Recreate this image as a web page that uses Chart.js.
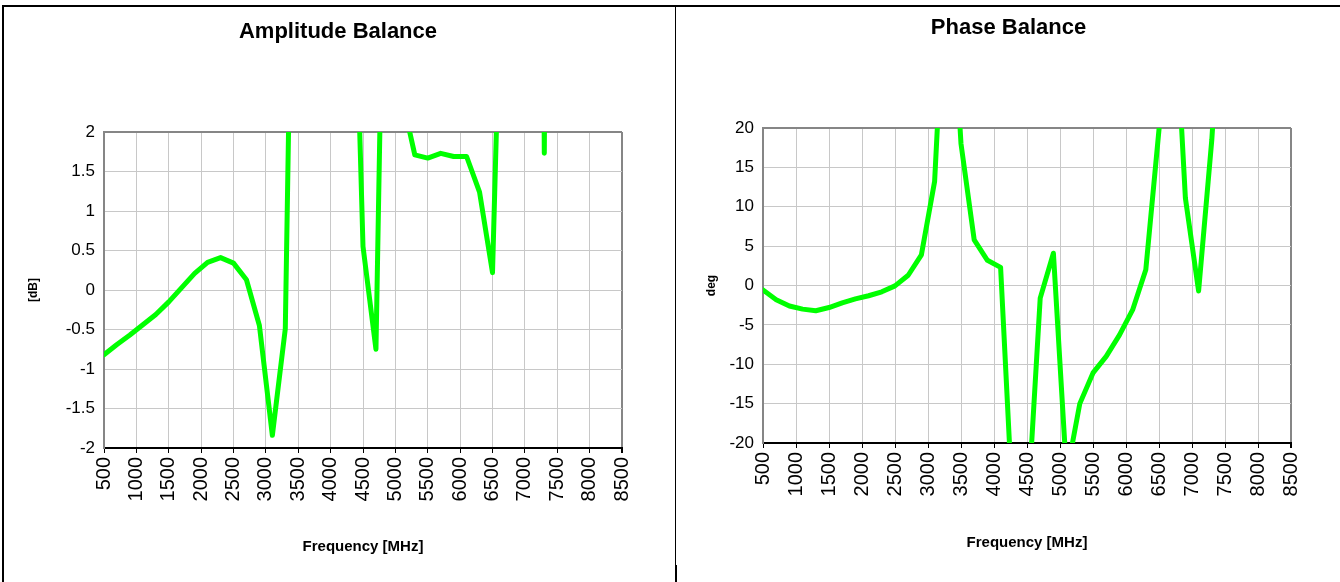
<!DOCTYPE html>
<html>
<head>
<meta charset="utf-8">
<script src="https://cdn.jsdelivr.net/npm/chart.js@4.4.1/dist/chart.umd.min.js"></script>
<style>
html,body{margin:0;padding:0;background:#fff;}
body{width:1340px;height:582px;position:relative;overflow:hidden;}
canvas{position:absolute;top:0;}
.ln{position:absolute;background:#000;}
</style>
</head>
<body>
<canvas id="c1" width="676" height="582" style="left:0"></canvas>
<canvas id="c2" width="663" height="582" style="left:677px"></canvas>
<div class="ln" style="left:2px;top:5px;width:1338px;height:2px"></div>
<div class="ln" style="left:2px;top:5px;width:2px;height:577px"></div>
<div class="ln" style="left:675px;top:5px;width:1px;height:577px"></div>
<div class="ln" style="left:675px;top:565px;width:2px;height:17px"></div>
<script>
// ---- data ----
const xTicks = [500,1000,1500,2000,2500,3000,3500,4000,4500,5000,5500,6000,6500,7000,7500,8000,8500];
const freqMHz = [500,700,900,1100,1300,1500,1700,1900,2100,2300,2500,2700,2900,3100,3300,3500,3700,3900,4100,4300,4500,4700,4900,5100,5300,5500,5700,5900,6100,6300,6500,6700,6900,7100,7300,7500];
const ampBalance = [-0.82,-0.69,-0.57,-0.44,-0.31,-0.15,0.03,0.21,0.35,0.41,0.34,0.13,-0.45,-1.84,-0.49,9.5,12,14,12,6.3,0.55,-0.75,8.4,2.45,1.71,1.67,1.73,1.69,1.69,1.24,0.22,6.2,9,30,1.73,30];
const phaseBalance = [-0.57,-1.8,-2.6,-3.0,-3.2,-2.8,-2.2,-1.7,-1.3,-0.8,-0.05,1.3,3.9,13.2,46,18,5.8,3.2,2.3,-31,-30,-1.6,4.1,-24,-15,-11.1,-9.0,-6.3,-3.1,2.0,19.8,42,11.1,-0.7,18.5,45];
const ampTicks = [-2,-1.5,-1,-0.5,0,0.5,1,1.5,2];
const phaseTicks = [-20,-15,-10,-5,0,5,10,15,20];

const FF = "'Liberation Sans', Arial, Helvetica, sans-serif";
const GRID = '#c8c8c8';
const FRAME = '#868686';
Chart.defaults.color = '#000';

function makeChart(id, title, titleTop, yTitle, yTicks, values, g) {
  const yMin = yTicks[0], yMax = yTicks[yTicks.length - 1];
  const xMax = xTicks[xTicks.length - 1];
  return new Chart(document.getElementById(id), {
    type: 'line',
    data: {
      datasets: [{
        data: freqMHz.map((f, i) => ({x: f, y: values[i]})),
        yAxisID: 'y',
        borderColor: '#00ff00',
        borderWidth: 5,
        pointRadius: 0,
        fill: false,
        tension: 0,
        clip: 0,
        borderJoinStyle: 'round',
        borderCapStyle: 'round'
      }]
    },
    options: {
      responsive: false,
      animation: false,
      layout: {padding: 0},
      plugins: {
        legend: {display: false},
        tooltip: {enabled: false},
        title: {
          display: true, text: title, color: '#000',
          font: {family: FF, size: 22, weight: 'bold', lineHeight: 1.2},
          padding: {top: titleTop, bottom: g.top - titleTop - 26.4}
        }
      },
      scales: {
        x: {
          type: 'linear', min: xTicks[0], max: xMax,
          afterBuildTicks: s => { s.ticks = xTicks.map(v => ({value: v})); },
          afterFit: s => { s.height = g.H - g.bottom; },
          grid: {
            color: c => (c.tick && c.tick.value === xMax) ? FRAME : GRID,
            lineWidth: c => (c.tick && c.tick.value === xMax) ? 2 : 1,
            tickColor: '#000', tickLength: 5, drawTicks: true
          },
          border: {color: '#000', width: 2},
          ticks: {
            autoSkip: false, maxRotation: 90, minRotation: 90, padding: 4,
            color: '#000', font: {family: FF, size: 20},
            callback: v => String(v)
          },
          title: {
            display: true, text: 'Frequency [MHz]', color: '#000',
            font: {family: FF, size: 15, weight: 'bold', lineHeight: 1.2},
            padding: {top: 0, bottom: g.xTitleBottom}
          }
        },
        y: {
          type: 'linear', min: yMin, max: yMax,
          afterBuildTicks: s => { s.ticks = yTicks.map(v => ({value: v})); },
          afterFit: s => { s.width = g.left; },
          grid: {
            color: c => (c.tick && c.tick.value === yMax) ? FRAME : GRID,
            lineWidth: c => (c.tick && c.tick.value === yMax) ? 2 : 1,
            drawTicks: false
          },
          border: {color: FRAME, width: 2},
          ticks: {
            padding: 9, color: '#000', font: {family: FF, size: 17},
            callback: v => String(v)
          },
          title: {
            display: true, text: yTitle, color: '#000',
            font: {family: FF, size: 12, weight: 'bold', lineHeight: 1.2},
            padding: {top: g.yTitleLeft, bottom: 0}
          }
        },
        spacer: {
          type: 'linear', position: 'right', display: true,
          afterFit: s => { s.width = g.W - g.right; },
          grid: {display: false, drawTicks: false},
          border: {display: false},
          ticks: {display: false},
          title: {display: false}
        }
      }
    }
  });
}

makeChart('c1', 'Amplitude Balance', 19, '[dB]', ampTicks, ampBalance,
  {W: 676, H: 582, left: 104, right: 622, top: 132, bottom: 448, xTitleBottom: 26, yTitleLeft: 26});
makeChart('c2', 'Phase Balance', 15, 'deg', phaseTicks, phaseBalance,
  {W: 663, H: 582, left: 86, right: 614, top: 128, bottom: 443, xTitleBottom: 30, yTitleLeft: 27});
</script>
</body>
</html>
